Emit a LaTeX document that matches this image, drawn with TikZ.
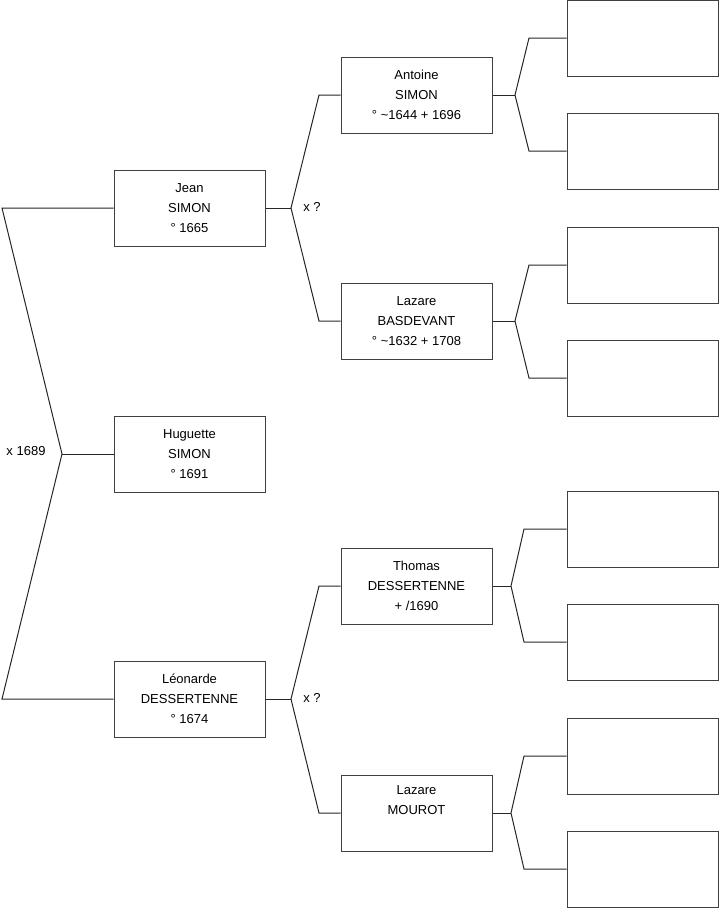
\documentclass[tikz,border=0pt]{standalone}
\usepackage{fontspec}
\setmainfont{Liberation Sans}
\begin{document}
\begin{tikzpicture}[x=1pt,y=-1pt,
  person/.style={draw=black!75,line width=1pt,minimum width=151pt,minimum height=76pt,inner sep=0pt,
    align=center,font=\fontsize{13}{20}\selectfont},
  link/.style={draw=black!85,line width=1pt},
  lbl/.style={font=\fontsize{13}{15}\selectfont,inner sep=0pt}]
\useasboundingbox (0,0) rectangle (719,908);
% generation 1
\node[person] (jean) at (189.5,208) {Jean\\SIMON\\° 1665};
\node[person] (hug)  at (189.5,454) {Huguette\\SIMON\\° 1691};
\node[person] (leo)  at (189.5,699) {Léonarde\\DESSERTENNE\\° 1674};
% generation 2
\node[person] (ant) at (416.5,95)  {Antoine\\SIMON\\° \textasciitilde1644 + 1696};
\node[person] (lazb) at (416.5,321) {Lazare\\BASDEVANT\\° \textasciitilde1632 + 1708};
\node[person] (tho) at (416.5,586) {Thomas\\DESSERTENNE\\+ /1690};
\node[person] (lazm) at (416.5,813) {Lazare\\MOUROT\\\strut};
% generation 3 (empty)
\node[person] (e1) at (642.5,38)  {};
\node[person] (e2) at (642.5,151) {};
\node[person] (e3) at (642.5,265) {};
\node[person] (e4) at (642.5,378) {};
\node[person] (e5) at (642.5,529) {};
\node[person] (e6) at (642.5,642) {};
\node[person] (e7) at (642.5,756) {};
\node[person] (e8) at (642.5,869) {};
% coordinates
\coordinate (v0) at (62,454); \coordinate (t0) at (2,208); \coordinate (b0) at (2,699);
\coordinate (v1) at (291,208); \coordinate (t1) at (319,95); \coordinate (b1) at (319,321);
\coordinate (v2) at (291,699); \coordinate (t2) at (319,586); \coordinate (b2) at (319,813);
\coordinate (va) at (515,95);  \coordinate (ta) at (529,38);  \coordinate (ba) at (529,151);
\coordinate (vb) at (515,321); \coordinate (tb) at (529,265); \coordinate (bb) at (529,378);
\coordinate (vc) at (511,586); \coordinate (tc) at (524,529); \coordinate (bc) at (524,642);
\coordinate (vd) at (511,813); \coordinate (td) at (524,756); \coordinate (bd) at (524,869);
% connectors
\draw[link] (jean.west) -- (t0) -- (v0) -- (b0) -- (leo.west);
\draw[link] (v0) -- (hug.west);
\draw[link] (jean.east) -- (v1);
\draw[link] (ant.west) -- (t1) -- (v1) -- (b1) -- (lazb.west);
\draw[link] (leo.east) -- (v2);
\draw[link] (tho.west) -- (t2) -- (v2) -- (b2) -- (lazm.west);
\draw[link] (ant.east) -- (va);
\draw[link] (e1.west) -- (ta) -- (va) -- (ba) -- (e2.west);
\draw[link] (lazb.east) -- (vb);
\draw[link] (e3.west) -- (tb) -- (vb) -- (bb) -- (e4.west);
\draw[link] (tho.east) -- (vc);
\draw[link] (e5.west) -- (tc) -- (vc) -- (bc) -- (e6.west);
\draw[link] (lazm.east) -- (vd);
\draw[link] (e7.west) -- (td) -- (vd) -- (bd) -- (e8.west);
% labels
\node[lbl] (m0) at (26,451) {x 1689};
\node[lbl] (m1) at (312,207) {x ?};
\node[lbl] (m2) at (312,698) {x ?};
\end{tikzpicture}
\end{document}
